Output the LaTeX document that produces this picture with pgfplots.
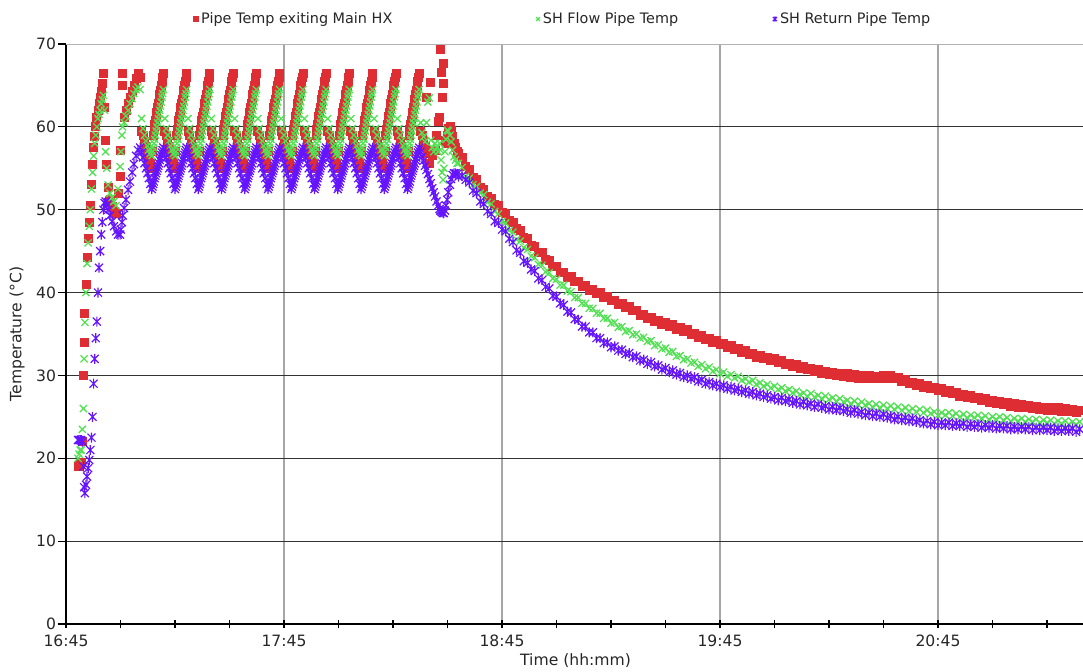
\documentclass[border=0pt]{standalone}
\usepackage{pgfplots}
\pgfplotsset{compat=1.18}
\usepackage{pgfplotstable}
\usepackage{fontspec}
\setmainfont{DejaVu Sans}
\definecolor{cr}{RGB}{222,46,52}
\definecolor{cg}{RGB}{84,224,84}
\definecolor{cp}{RGB}{100,20,255}
\pgfdeclareplotmark{xstar}{%
 \pgfpathmoveto{\pgfqpoint{0pt}{\pgfplotmarksize}}%
 \pgfpathlineto{\pgfqpoint{0pt}{-\pgfplotmarksize}}%
 \pgfpathmoveto{\pgfqpoint{-0.8\pgfplotmarksize}{-0.8\pgfplotmarksize}}%
 \pgfpathlineto{\pgfqpoint{0.8\pgfplotmarksize}{0.8\pgfplotmarksize}}%
 \pgfpathmoveto{\pgfqpoint{-0.8\pgfplotmarksize}{0.8\pgfplotmarksize}}%
 \pgfpathlineto{\pgfqpoint{0.8\pgfplotmarksize}{-0.8\pgfplotmarksize}}%
 \pgfusepathqstroke}
% t = minutes after 16:45; r = Pipe Temp exiting Main HX; g = SH Flow; b = SH Return
\pgfplotstableread{
t r g b
3.3 19.0 20.0 22.2
3.6 19.2 20.5 22.2
3.9 19.3 21.0 22.2
4.2 19.5 21.0 22.2
4.5 22.0 23.5 22.0
4.8 30.0 26.0 19.0
5.0 34.0 32.0 16.5
5.2 37.5 36.4 15.8
5.5 41.0 40.0 16.8
5.8 44.3 43.5 17.8
6.1 46.5 46.0 18.8
6.4 48.5 48.0 19.8
6.7 50.5 50.0 21.0
7.0 53.0 52.5 22.5
7.3 55.5 54.5 25.0
7.6 57.5 56.5 29.0
7.9 58.8 58.0 32.0
8.2 60.0 59.0 34.5
8.5 61.2 60.0 36.5
8.8 62.0 61.0 40.0
9.1 62.8 61.5 43.0
9.4 63.5 62.0 45.0
9.7 64.3 62.8 47.0
10.0 65.3 63.3 48.5
10.3 66.5 63.8 50.0
10.6 62.4 62.0 50.8
10.9 58.4 57.0 51.0
11.2 55.5 55.0 50.6
11.6 52.7 53.0 50.0
12.1 51.2 52.0 49.3
12.7 50.4 51.5 48.6
13.2 49.8 51.0 48.0
13.8 49.6 50.5 47.4
14.3 52.0 52.5 47.0
14.9 54.0 55.2 47.0
15.1 57.2 57.0 47.6
15.4 66.5 59.0 48.5
15.6 65.0 60.0 49.3
16.0 61.2 60.5 50.2
16.5 62.0 61.3 51.2
17.1 62.8 62.0 52.4
17.6 63.5 62.8 53.4
18.2 64.3 63.4 54.5
18.7 65.0 64.0 55.5
19.3 65.8 64.5 56.5
19.8 66.5 64.8 57.2
20.4 66.0 64.5 57.5
20.8 59.5 61.0 56.9
21.2 59.0 59.8 56.3
21.6 58.3 59.0 55.6
22.0 57.6 58.3 55.0
22.4 56.9 57.7 54.4
22.8 56.2 57.2 53.8
23.2 55.6 56.8 53.1
23.6 55.0 56.5 52.5
23.8 57.0 57.0 52.8
24.0 59.0 57.5 53.1
24.2 59.7 58.0 53.4
24.4 60.3 58.5 53.8
24.6 60.8 59.0 54.1
24.8 61.3 59.5 54.4
25.0 61.8 60.0 54.7
25.2 62.3 60.5 55.0
25.4 62.8 61.0 55.3
25.6 63.3 61.5 55.6
25.8 63.9 62.0 56.0
26.0 64.4 62.5 56.3
26.2 65.0 63.0 56.6
26.4 65.5 63.6 56.9
26.6 66.0 64.0 57.2
26.8 66.5 64.5 57.5
27.2 59.5 61.0 56.9
27.6 59.0 59.8 56.3
28.0 58.3 59.0 55.6
28.4 57.6 58.3 55.0
28.8 56.9 57.7 54.4
29.2 56.2 57.2 53.8
29.6 55.6 56.8 53.1
30.0 55.0 56.5 52.5
30.2 57.0 57.0 52.8
30.4 59.0 57.5 53.1
30.6 59.7 58.0 53.4
30.8 60.3 58.5 53.8
31.0 60.8 59.0 54.1
31.2 61.3 59.5 54.4
31.4 61.8 60.0 54.7
31.6 62.3 60.5 55.0
31.8 62.8 61.0 55.3
32.0 63.3 61.5 55.6
32.2 63.9 62.0 56.0
32.4 64.4 62.5 56.3
32.6 65.0 63.0 56.6
32.8 65.5 63.6 56.9
33.0 66.0 64.0 57.2
33.2 66.5 64.5 57.5
33.6 59.5 61.0 56.9
34.0 59.0 59.8 56.3
34.4 58.3 59.0 55.6
34.8 57.6 58.3 55.0
35.2 56.9 57.7 54.4
35.6 56.2 57.2 53.8
36.0 55.6 56.8 53.1
36.4 55.0 56.5 52.5
36.6 57.0 57.0 52.8
36.8 59.0 57.5 53.1
37.0 59.7 58.0 53.4
37.2 60.3 58.5 53.8
37.4 60.8 59.0 54.1
37.6 61.3 59.5 54.4
37.8 61.8 60.0 54.7
38.0 62.3 60.5 55.0
38.2 62.8 61.0 55.3
38.4 63.3 61.5 55.6
38.6 63.9 62.0 56.0
38.8 64.4 62.5 56.3
39.0 65.0 63.0 56.6
39.2 65.5 63.6 56.9
39.4 66.0 64.0 57.2
39.6 66.5 64.5 57.5
40.0 59.5 61.0 56.9
40.4 59.0 59.8 56.3
40.8 58.3 59.0 55.6
41.2 57.6 58.3 55.0
41.6 56.9 57.7 54.4
42.0 56.2 57.2 53.8
42.4 55.6 56.8 53.1
42.8 55.0 56.5 52.5
43.0 57.0 57.0 52.8
43.2 59.0 57.5 53.1
43.4 59.7 58.0 53.4
43.6 60.3 58.5 53.8
43.8 60.8 59.0 54.1
44.0 61.3 59.5 54.4
44.2 61.8 60.0 54.7
44.4 62.3 60.5 55.0
44.6 62.8 61.0 55.3
44.8 63.3 61.5 55.6
45.0 63.9 62.0 56.0
45.2 64.4 62.5 56.3
45.4 65.0 63.0 56.6
45.6 65.5 63.6 56.9
45.8 66.0 64.0 57.2
46.0 66.5 64.5 57.5
46.4 59.5 61.0 56.9
46.8 59.0 59.8 56.3
47.2 58.3 59.0 55.6
47.6 57.6 58.3 55.0
48.0 56.9 57.7 54.4
48.4 56.2 57.2 53.8
48.8 55.6 56.8 53.1
49.2 55.0 56.5 52.5
49.4 57.0 57.0 52.8
49.6 59.0 57.5 53.1
49.8 59.7 58.0 53.4
50.0 60.3 58.5 53.8
50.2 60.8 59.0 54.1
50.4 61.3 59.5 54.4
50.6 61.8 60.0 54.7
50.8 62.3 60.5 55.0
51.0 62.8 61.0 55.3
51.2 63.3 61.5 55.6
51.4 63.9 62.0 56.0
51.6 64.4 62.5 56.3
51.8 65.0 63.0 56.6
52.0 65.5 63.6 56.9
52.2 66.0 64.0 57.2
52.4 66.5 64.5 57.5
52.8 59.5 61.0 56.9
53.2 59.0 59.8 56.3
53.6 58.3 59.0 55.6
54.0 57.6 58.3 55.0
54.4 56.9 57.7 54.4
54.8 56.2 57.2 53.8
55.2 55.6 56.8 53.1
55.6 55.0 56.5 52.5
55.8 57.0 57.0 52.8
56.0 59.0 57.5 53.1
56.2 59.7 58.0 53.4
56.4 60.3 58.5 53.8
56.6 60.8 59.0 54.1
56.8 61.3 59.5 54.4
57.0 61.8 60.0 54.7
57.2 62.3 60.5 55.0
57.4 62.8 61.0 55.3
57.6 63.3 61.5 55.6
57.8 63.9 62.0 56.0
58.0 64.4 62.5 56.3
58.2 65.0 63.0 56.6
58.4 65.5 63.6 56.9
58.6 66.0 64.0 57.2
58.8 66.5 64.5 57.5
59.2 59.5 61.0 56.9
59.6 59.0 59.8 56.3
60.0 58.3 59.0 55.6
60.4 57.6 58.3 55.0
60.8 56.9 57.7 54.4
61.2 56.2 57.2 53.8
61.6 55.6 56.8 53.1
62.0 55.0 56.5 52.5
62.2 57.0 57.0 52.8
62.4 59.0 57.5 53.1
62.6 59.7 58.0 53.4
62.8 60.3 58.5 53.8
63.0 60.8 59.0 54.1
63.2 61.3 59.5 54.4
63.4 61.8 60.0 54.7
63.6 62.3 60.5 55.0
63.8 62.8 61.0 55.3
64.0 63.3 61.5 55.6
64.2 63.9 62.0 56.0
64.4 64.4 62.5 56.3
64.6 65.0 63.0 56.6
64.8 65.5 63.6 56.9
65.0 66.0 64.0 57.2
65.2 66.5 64.5 57.5
65.6 59.5 61.0 56.9
66.0 59.0 59.8 56.3
66.4 58.3 59.0 55.6
66.8 57.6 58.3 55.0
67.2 56.9 57.7 54.4
67.6 56.2 57.2 53.8
68.0 55.6 56.8 53.1
68.4 55.0 56.5 52.5
68.6 57.0 57.0 52.8
68.8 59.0 57.5 53.1
69.0 59.7 58.0 53.4
69.2 60.3 58.5 53.8
69.4 60.8 59.0 54.1
69.6 61.3 59.5 54.4
69.8 61.8 60.0 54.7
70.0 62.3 60.5 55.0
70.2 62.8 61.0 55.3
70.4 63.3 61.5 55.6
70.6 63.9 62.0 56.0
70.8 64.4 62.5 56.3
71.0 65.0 63.0 56.6
71.2 65.5 63.6 56.9
71.4 66.0 64.0 57.2
71.6 66.5 64.5 57.5
72.0 59.5 61.0 56.9
72.4 59.0 59.8 56.3
72.8 58.3 59.0 55.6
73.2 57.6 58.3 55.0
73.6 56.9 57.7 54.4
74.0 56.2 57.2 53.8
74.4 55.6 56.8 53.1
74.8 55.0 56.5 52.5
75.0 57.0 57.0 52.8
75.2 59.0 57.5 53.1
75.4 59.7 58.0 53.4
75.6 60.3 58.5 53.8
75.8 60.8 59.0 54.1
76.0 61.3 59.5 54.4
76.2 61.8 60.0 54.7
76.4 62.3 60.5 55.0
76.6 62.8 61.0 55.3
76.8 63.3 61.5 55.6
77.0 63.9 62.0 56.0
77.2 64.4 62.5 56.3
77.4 65.0 63.0 56.6
77.6 65.5 63.6 56.9
77.8 66.0 64.0 57.2
78.0 66.5 64.5 57.5
78.4 59.5 61.0 56.9
78.8 59.0 59.8 56.3
79.2 58.3 59.0 55.6
79.6 57.6 58.3 55.0
80.0 56.9 57.7 54.4
80.4 56.2 57.2 53.8
80.8 55.6 56.8 53.1
81.2 55.0 56.5 52.5
81.4 57.0 57.0 52.8
81.6 59.0 57.5 53.1
81.8 59.7 58.0 53.4
82.0 60.3 58.5 53.8
82.2 60.8 59.0 54.1
82.4 61.3 59.5 54.4
82.6 61.8 60.0 54.7
82.8 62.3 60.5 55.0
83.0 62.8 61.0 55.3
83.2 63.3 61.5 55.6
83.4 63.9 62.0 56.0
83.6 64.4 62.5 56.3
83.8 65.0 63.0 56.6
84.0 65.5 63.6 56.9
84.2 66.0 64.0 57.2
84.4 66.5 64.5 57.5
84.8 59.5 61.0 56.9
85.2 59.0 59.8 56.3
85.6 58.3 59.0 55.6
86.0 57.6 58.3 55.0
86.4 56.9 57.7 54.4
86.8 56.2 57.2 53.8
87.2 55.6 56.8 53.1
87.6 55.0 56.5 52.5
87.8 57.0 57.0 52.8
88.0 59.0 57.5 53.1
88.2 59.7 58.0 53.4
88.4 60.3 58.5 53.8
88.6 60.8 59.0 54.1
88.8 61.3 59.5 54.4
89.0 61.8 60.0 54.7
89.2 62.3 60.5 55.0
89.4 62.8 61.0 55.3
89.6 63.3 61.5 55.6
89.8 63.9 62.0 56.0
90.0 64.4 62.5 56.3
90.2 65.0 63.0 56.6
90.4 65.5 63.6 56.9
90.6 66.0 64.0 57.2
90.8 66.5 64.5 57.5
91.2 59.5 61.0 56.9
91.6 59.0 59.8 56.3
92.0 58.3 59.0 55.6
92.4 57.6 58.3 55.0
92.8 56.9 57.7 54.4
93.2 56.2 57.2 53.8
93.6 55.6 56.8 53.1
94.0 55.0 56.5 52.5
94.2 57.0 57.0 52.8
94.4 59.0 57.5 53.1
94.6 59.7 58.0 53.4
94.8 60.3 58.5 53.8
95.0 60.8 59.0 54.1
95.2 61.3 59.5 54.4
95.4 61.8 60.0 54.7
95.6 62.3 60.5 55.0
95.8 62.8 61.0 55.3
96.0 63.3 61.5 55.6
96.2 63.9 62.0 56.0
96.4 64.4 62.5 56.3
96.6 65.0 63.0 56.6
96.8 65.5 63.6 56.9
97.0 66.0 64.0 57.2
97.2 66.5 64.5 57.5
97.6 59.5 60.5 57.0
98.0 59.0 59.3 56.4
98.4 58.3 58.8 55.9
98.8 57.6 58.2 55.3
99.2 63.5 60.5 54.8
99.6 56.8 63.0 54.3
100.0 55.6 63.5 53.7
100.4 65.4 58.4 53.2
100.8 56.5 57.5 52.6
101.2 57.2 57.0 52.1
101.6 57.2 58.0 51.6
102.0 59.0 57.5 51.0
102.4 60.6 57.0 50.5
102.8 61.2 58.0 50.1
103.0 69.3 57.2 49.9
103.2 66.6 56.0 49.8
103.5 63.6 54.5 49.7
103.8 67.7 53.6 49.6
104.0 65.3 55.0 49.6
104.3 58.4 57.0 49.9
104.6 58.0 58.5 50.5
104.9 59.0 59.6 51.2
105.2 59.8 59.5 52.1
105.7 60.0 59.0 53.0
106.0 59.6 58.2 53.7
106.4 58.8 57.2 54.2
106.8 58.0 56.4 54.4
107.2 57.5 56.0 54.4
107.6 57.0 55.6 54.3
108 56.8 55.6 54.0
109 56.3 55.1 54.1
110 55.2 54.0 53.6
111 54.9 53.8 53.3
112 53.9 53.0 52.3
113 53.6 52.8 52.0
114 52.7 52.0 51.0
115 52.5 51.8 50.7
116 51.6 50.9 49.8
117 51.4 50.7 49.5
118 50.6 49.8 48.6
119 50.5 49.5 48.4
120 49.7 48.6 47.6
121 49.5 48.4 47.4
122 48.7 47.5 46.5
123 48.5 47.3 46.1
124 47.7 46.4 45.1
125 47.5 46.2 44.8
126 46.6 45.4 43.8
127 46.5 45.2 43.6
128 45.7 44.4 42.8
129 45.6 44.2 42.6
130 44.9 43.4 41.7
131 44.8 43.3 41.5
132 44.0 42.5 40.7
133 43.9 42.4 40.5
134 43.2 41.7 39.6
135 43.1 41.6 39.5
136 42.4 40.9 38.7
137 42.4 40.9 38.5
138 41.8 40.2 37.7
139 41.9 40.1 37.6
140 41.3 39.4 36.8
141 41.4 39.4 36.7
142 40.8 38.7 35.9
143 40.9 38.7 35.9
144 40.3 38.1 35.2
145 40.4 38.1 35.2
146 39.9 37.5 34.5
147 40.0 37.5 34.5
148 39.4 36.9 33.9
149 39.5 36.9 34.0
150 39.0 36.3 33.4
151 39.1 36.4 33.5
152 38.6 35.8 33.0
153 38.7 35.9 33.1
154 38.2 35.3 32.6
155 38.3 35.4 32.7
156 37.8 34.9 32.2
157 37.9 35.0 32.3
158 37.3 34.5 31.8
159 37.4 34.6 31.9
160 36.9 34.1 31.4
161 37.0 34.2 31.6
162 36.5 33.6 31.1
163 36.7 33.7 31.2
164 36.2 33.2 30.7
165 36.4 33.3 30.9
166 35.9 32.8 30.4
167 36.1 32.9 30.6
168 35.6 32.3 30.1
169 35.8 32.4 30.3
170 35.3 31.9 29.8
171 35.5 32.0 30.0
172 35.0 31.5 29.6
173 35.1 31.6 29.8
174 34.6 31.1 29.3
175 34.8 31.3 29.5
176 34.3 30.8 29.0
177 34.5 31.0 29.2
178 34.0 30.5 28.8
179 34.2 30.7 29.0
180 33.7 30.2 28.6
181 33.9 30.4 28.8
182 33.4 29.9 28.4
183 33.6 30.1 28.6
184 33.1 29.7 28.2
185 33.3 29.9 28.4
186 32.8 29.4 28.0
187 33.0 29.6 28.2
188 32.5 29.2 27.8
189 32.7 29.4 28.0
190 32.2 28.9 27.6
191 32.4 29.1 27.8
192 32.0 28.7 27.4
193 32.2 28.9 27.6
194 31.8 28.5 27.2
195 32.0 28.7 27.4
196 31.6 28.3 27.0
197 31.8 28.5 27.3
198 31.3 28.1 26.9
199 31.5 28.3 27.1
200 31.1 27.9 26.7
201 31.3 28.1 26.9
202 30.9 27.7 26.5
203 31.1 27.9 26.8
204 30.7 27.5 26.4
205 30.9 27.8 26.6
206 30.5 27.4 26.2
207 30.7 27.6 26.5
208 30.3 27.2 26.1
209 30.5 27.5 26.3
210 30.1 27.1 25.9
211 30.4 27.3 26.2
212 30.0 26.9 25.8
213 30.3 27.2 26.1
214 29.9 26.8 25.7
215 30.2 27.0 25.9
216 29.8 26.6 25.5
217 30.1 26.9 25.8
218 29.7 26.5 25.4
219 30.0 26.8 25.6
220 29.7 26.4 25.2
221 30.0 26.6 25.5
222 29.6 26.2 25.1
223 29.9 26.5 25.4
224 29.6 26.1 25.0
225 30.0 26.4 25.3
226 29.7 26.0 24.9
227 30.0 26.3 25.1
228 29.6 25.9 24.7
229 29.8 26.2 25.0
230 29.3 25.8 24.6
231 29.5 26.1 24.9
232 29.0 25.7 24.5
233 29.2 26.0 24.8
234 28.8 25.6 24.4
235 29.0 25.9 24.6
236 28.6 25.5 24.2
237 28.8 25.8 24.5
238 28.4 25.4 24.1
239 28.6 25.6 24.4
240 28.2 25.2 24.0
241 28.4 25.5 24.3
242 28.0 25.2 24.0
243 28.2 25.5 24.3
244 27.8 25.1 23.9
245 28.0 25.4 24.2
246 27.5 25.0 23.9
247 27.7 25.3 24.2
248 27.3 24.9 23.8
249 27.6 25.2 24.1
250 27.2 24.9 23.8
251 27.4 25.2 24.1
252 27.0 24.8 23.7
253 27.2 25.1 24.0
254 26.8 24.7 23.7
255 27.0 25.0 24.0
256 26.6 24.7 23.6
257 26.9 25.0 23.9
258 26.5 24.6 23.6
259 26.7 24.9 23.9
260 26.3 24.5 23.5
261 26.6 24.8 23.8
262 26.2 24.5 23.5
263 26.5 24.8 23.8
264 26.1 24.4 23.5
265 26.4 24.7 23.8
266 26.0 24.4 23.4
267 26.3 24.7 23.7
268 25.9 24.3 23.4
269 26.2 24.6 23.7
270 25.8 24.3 23.4
271 26.1 24.6 23.7
272 25.8 24.2 23.3
273 26.1 24.5 23.6
274 25.7 24.2 23.3
275 26.0 24.5 23.6
276 25.6 24.1 23.3
277 25.9 24.4 23.6
278 25.5 24.1 23.2
279 25.8 24.4 23.5
280 25.5 24.0 23.2
}\data
\begin{document}
\begin{tikzpicture}
\begin{axis}[
  width=508.5pt, height=290pt, scale only axis,
  xmin=0, xmax=279.9, ymin=0, ymax=70,
  axis x line*=bottom, axis y line*=left,
  axis line style={black, line width=0.6pt},
  xtick={0,60,120,180,240},
  xticklabels={16:45,17:45,18:45,19:45,20:45},
  minor xtick={15,30,45,75,90,105,135,150,165,195,210,225,255,270},
  ytick={0,10,20,30,40,50,60},
  extra y ticks={70},
  extra y tick style={grid=none},
  xmajorgrids, ymajorgrids,
  x grid style={black!35, line width=0.7pt},
  y grid style={black!80, line width=0.6pt},
  xtick align=center, ytick align=outside,
  major tick length=4pt, minor tick length=4pt,
  tick style={black, line width=0.6pt},
  /pgf/number format/assume math mode=true,
  tick label style={font=\fontsize{7.8}{9}\selectfont, text=black!85},
  yticklabel style={xshift=2.5pt},
  xlabel={Time (hh:mm)}, ylabel={Temperature (°C)},
  every axis x label/.style={at={(axis description cs:0.501,-0.0638)}, anchor=center,
    font=\fontsize{7.8}{9}\selectfont, text=black!85},
  every axis y label/.style={at={(axis description cs:-0.0482,0.5)}, anchor=center, rotate=90,
    font=\fontsize{7.8}{9}\selectfont, text=black!85},
  legend style={at={(axis description cs:0.1245,1.043)}, anchor=west, draw=none, fill=none,
    font=\fontsize{7.2}{8.5}\selectfont, text=black!85, inner sep=0pt,
    nodes={inner xsep=1.5pt, inner ysep=0pt}},
  legend columns=3, legend cell align=left,
  legend image code/.code={\draw[#1, mark size=1.3pt] plot coordinates {(2pt,0pt)};},
]
\draw[black!30, line width=0.8pt] (rel axis cs:0,1) -- (rel axis cs:1,1);
\addplot[only marks, mark=square*, mark size=2pt, color=cr, fill=cr] table[x=t, y=r]{\data};
\addplot[only marks, mark=x, mark size=2.5pt, color=cg, line width=0.65pt] table[x=t, y=g]{\data};
\addplot[only marks, mark=xstar, mark size=2.5pt, color=cp, line width=0.6pt] table[x=t, y=b]{\data};
\legend{\makebox[166pt][l]{Pipe Temp exiting Main HX}, \makebox[113.5pt][l]{SH Flow Pipe Temp}, SH Return Pipe Temp}
\end{axis}
\pgfresetboundingbox
\path[use as bounding box] (-33pt,-23.5pt) rectangle (508.5pt,312pt);
\end{tikzpicture}
\end{document}
